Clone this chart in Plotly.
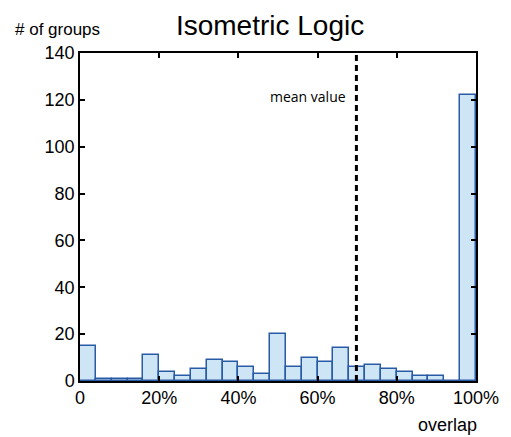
import plotly.graph_objects as go

bin_starts = [0, 4, 8, 12, 16, 20, 24, 28, 32, 36, 40, 44, 48, 52, 56, 60, 64, 68, 72, 76, 80, 84, 88, 92, 96]
counts = [15, 1, 1, 1, 11, 4, 2, 5, 9, 8, 6, 3, 20, 6, 10, 8, 14, 6, 7, 5, 4, 2, 2, 0, 122]
bin_width = 4
mean_value = 69.8
x_tickvals = [0, 20, 40, 60, 80, 100]
x_ticktext = ["0", "20%", "40%", "60%", "80%", "100%"]
y_tickvals = [0, 20, 40, 60, 80, 100, 120, 140]

fig = go.Figure()
fig.add_trace(go.Bar(
    x=[s + bin_width / 2 for s in bin_starts],
    y=counts,
    width=bin_width,
    marker=dict(color="rgb(205,229,245)", line=dict(color="rgb(40,90,165)", width=1.5)),
    showlegend=False,
))
fig.add_shape(type="line", x0=mean_value, x1=mean_value, y0=0, y1=140,
              xref="x", yref="y", line=dict(color="black", width=3, dash="6px,4px"))
fig.add_annotation(x=mean_value, y=121.5, xref="x", yref="y", text="mean value",
                   showarrow=False, xanchor="right", yanchor="middle", xshift=-8,
                   font=dict(family="Open Sans", size=14, color="black"))
fig.add_annotation(x=-0.0575, y=1.073, xref="paper", yref="paper", text="# of groups",
                   showarrow=False, xanchor="center", yanchor="middle",
                   font=dict(family="Liberation Sans", size=17, color="black"))
fig.add_annotation(x=0.9275, y=-0.134, xref="paper", yref="paper", text="overlap",
                   showarrow=False, xanchor="center", yanchor="middle",
                   font=dict(family="Liberation Sans", size=18, color="black"))

fig.update_layout(
    width=503, height=429,
    margin=dict(l=72, r=31, t=45, b=56),
    paper_bgcolor="white", plot_bgcolor="white",
    title=dict(text="Isometric Logic", xref="paper", x=0.48, xanchor="center",
               yref="container", y=0.96, yanchor="middle",
               font=dict(family="Liberation Sans", size=28, color="black")),
    bargap=0,
    font=dict(family="Liberation Sans", color="black"),
)
fig.update_xaxes(range=[0, 100], tickvals=x_tickvals, ticktext=x_ticktext,
                 ticks="inside", ticklen=5, tickwidth=1.5, tickcolor="black",
                 showline=True, linecolor="black", linewidth=1.5, mirror="ticks",
                 showgrid=False, zeroline=False, tickfont=dict(size=18))
fig.update_yaxes(range=[0, 140], tickvals=y_tickvals,
                 ticks="inside", ticklen=5, tickwidth=1.5, tickcolor="black",
                 showline=True, linecolor="black", linewidth=1.5, mirror="ticks",
                 showgrid=False, zeroline=False, tickfont=dict(size=18))

fig.write_html("out.html")
